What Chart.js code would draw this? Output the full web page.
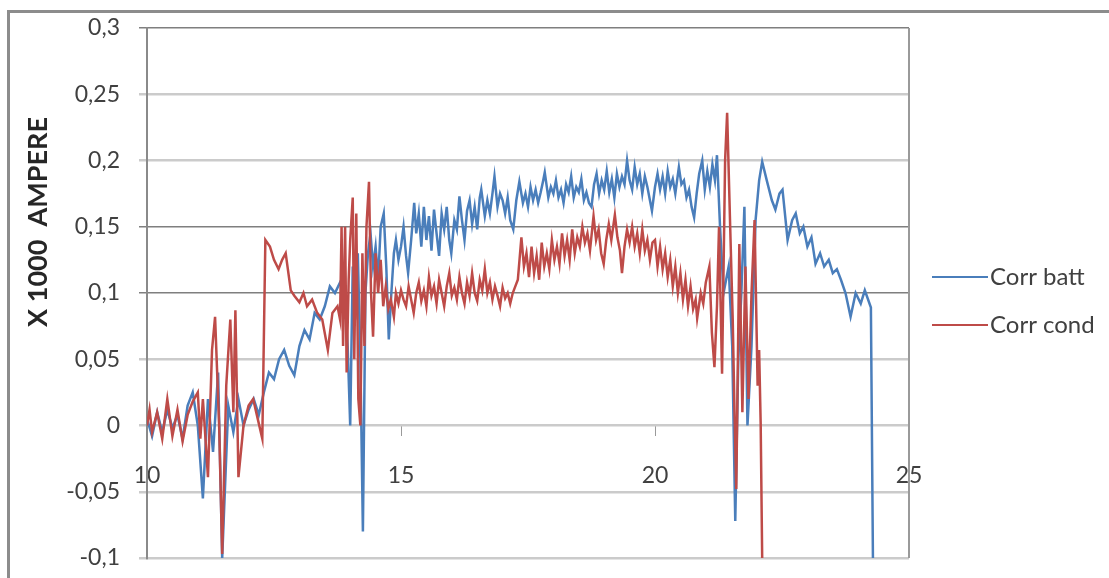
<!DOCTYPE html>
<html>
<head>
<meta charset="utf-8">
<script src="https://cdn.jsdelivr.net/npm/chart.js@4.4.1/dist/chart.umd.min.js"></script>
<style>
html, body { margin: 0; padding: 0; background: #fff; }
#wrap { position: relative; width: 1109px; height: 578px; }
</style>
</head>
<body>
<div id="wrap"><canvas id="chart"></canvas></div>
<script>
// valeurs
const battX = [
    10.0, 10.1, 10.2, 10.3, 10.4, 10.5, 10.6, 10.7, 10.8, 10.9,
    11.0, 11.1, 11.2, 11.3, 11.4, 11.48, 11.6, 11.7, 11.8, 11.9,
    12.0, 12.1, 12.2, 12.3, 12.4, 12.5, 12.6, 12.7, 12.8, 12.9,
    13.0, 13.1, 13.2, 13.3, 13.4, 13.5, 13.6, 13.7, 13.8,
    13.90, 13.95, 14.00, 14.05, 14.10, 14.15, 14.20, 14.25, 14.30, 14.35, 14.40,
    14.45, 14.50, 14.55, 14.60, 14.66, 14.71, 14.76, 14.81, 14.86, 14.90,
    14.95, 15.00, 15.05, 15.10, 15.14, 15.20, 15.26, 15.30, 15.35, 15.40,
    15.45, 15.50, 15.55, 15.60, 15.65, 15.70, 15.75, 15.80, 15.85, 15.90,
    15.95, 15.99, 16.05, 16.10, 16.15, 16.20, 16.25, 16.30, 16.35, 16.40,
    16.45, 16.50, 16.55, 16.58, 16.65, 16.70, 16.75, 16.80, 16.84, 16.90,
    16.95, 17.00, 17.05, 17.10, 17.15, 17.21, 17.27, 17.33, 17.40, 17.45,
    17.50, 17.55, 17.60, 17.65, 17.70, 17.75, 17.80, 17.83, 17.90, 17.95,
    18.00, 18.05, 18.10, 18.15, 18.20, 18.25, 18.30, 18.35, 18.40, 18.45,
    18.50, 18.55, 18.60, 18.65, 18.70, 18.75, 18.80, 18.85, 18.90, 18.95,
    19.00, 19.05, 19.10, 19.15, 19.20, 19.25, 19.30, 19.35, 19.40, 19.45,
    19.50, 19.55, 19.60, 19.65, 19.70, 19.75, 19.80, 19.85, 19.90, 19.94,
    20.00, 20.05, 20.10, 20.15, 20.20, 20.25, 20.30, 20.35, 20.40, 20.47,
    20.52, 20.57, 20.62, 20.67, 20.72, 20.77, 20.82, 20.87, 20.93, 20.98,
    21.03, 21.08, 21.13, 21.18, 21.22,
    21.28, 21.35, 21.45, 21.52, 21.58, 21.64, 21.7, 21.76, 21.82, 21.9,
    21.98, 22.05, 22.11, 22.2, 22.3, 22.37, 22.45, 22.51, 22.61, 22.7,
    22.77, 22.85, 22.92, 23.0, 23.08, 23.16, 23.25, 23.33, 23.42, 23.5,
    23.58, 23.66, 23.75, 23.85, 23.95, 24.05, 24.13, 24.25, 24.29
];
const battY = [
    0.005, -0.008, 0.01, -0.005, 0.012, -0.002, 0.008, -0.01, 0.015, 0.025,
    0.0, -0.055, 0.02, -0.02, 0.04, -0.1, 0.015, -0.005, 0.02, 0.0,
    0.012, 0.02, 0.008, 0.025, 0.04, 0.035, 0.05, 0.057, 0.045, 0.038,
    0.06, 0.072, 0.065, 0.085, 0.08, 0.09, 0.105, 0.1, 0.108,
    0.095, 0.06, 0.0, 0.12, 0.08, 0.13, 0.05, -0.08, 0.1, 0.13, 0.145,
    0.12, 0.135, 0.11, 0.15, 0.16, 0.12, 0.065, 0.1, 0.13, 0.14,
    0.125, 0.135, 0.15, 0.128, 0.115, 0.14, 0.168, 0.145, 0.16, 0.135,
    0.165, 0.14, 0.158, 0.132, 0.163, 0.145, 0.128, 0.16, 0.148, 0.165,
    0.14, 0.13, 0.155, 0.148, 0.173, 0.155, 0.14, 0.162, 0.17, 0.152,
    0.165, 0.148, 0.172, 0.178, 0.158, 0.17, 0.16, 0.175, 0.188, 0.165,
    0.175, 0.17, 0.16, 0.172, 0.155, 0.148, 0.17, 0.184, 0.168, 0.175,
    0.165, 0.18, 0.17, 0.178, 0.168, 0.176, 0.185, 0.191, 0.172, 0.18,
    0.175, 0.185, 0.172, 0.178, 0.168, 0.182, 0.176, 0.188, 0.172, 0.18,
    0.176, 0.186, 0.17, 0.176, 0.168, 0.165, 0.182, 0.19, 0.175, 0.185,
    0.178, 0.192, 0.176, 0.186, 0.172, 0.19, 0.18, 0.188, 0.182, 0.2,
    0.185, 0.178, 0.195, 0.182, 0.19, 0.175, 0.188, 0.18, 0.17, 0.162,
    0.18, 0.19, 0.178, 0.188, 0.175, 0.192, 0.18, 0.186, 0.175, 0.195,
    0.182, 0.185, 0.172, 0.178, 0.165, 0.157, 0.175, 0.19, 0.2, 0.178,
    0.192, 0.18, 0.197, 0.185, 0.204,
    0.15, 0.1, 0.12, 0.06, -0.072, 0.05, 0.1, 0.165, 0.0, 0.06,
    0.155, 0.185, 0.199, 0.185, 0.17, 0.163, 0.175, 0.178, 0.14, 0.155,
    0.16, 0.145, 0.15, 0.135, 0.142, 0.122, 0.13, 0.12, 0.125, 0.115,
    0.118, 0.11, 0.1, 0.082, 0.1, 0.092, 0.102, 0.089, -0.1
];

const condX = [
    10.0, 10.05, 10.1, 10.2, 10.3, 10.4, 10.5, 10.6, 10.7, 10.8,
    10.9, 11.0, 11.05, 11.1, 11.2, 11.28, 11.34, 11.42, 11.48, 11.56,
    11.64, 11.7, 11.74, 11.8, 11.9, 12.0, 12.09, 12.18, 12.27, 12.33,
    12.42, 12.5, 12.59, 12.66, 12.73, 12.83, 12.9, 13.0, 13.08, 13.15,
    13.25, 13.35, 13.45, 13.56, 13.65, 13.75,
    13.80, 13.83, 13.86, 13.90, 13.93, 13.97, 14.00, 14.05, 14.08, 14.12,
    14.16, 14.20, 14.24, 14.28, 14.32, 14.37, 14.41, 14.45,
    14.50, 14.55, 14.60, 14.65, 14.70, 14.75, 14.80, 14.86, 14.90, 14.95,
    15.00, 15.05, 15.10, 15.15, 15.20, 15.25, 15.30, 15.35, 15.40, 15.45,
    15.50, 15.55, 15.60, 15.65, 15.70, 15.75, 15.80, 15.85, 15.90, 15.95,
    16.00, 16.05, 16.10, 16.15, 16.20, 16.25, 16.30, 16.35, 16.40, 16.45,
    16.50, 16.55, 16.60, 16.65, 16.70, 16.75, 16.80, 16.85, 16.90, 16.95,
    17.00, 17.05, 17.10, 17.15, 17.20, 17.25, 17.30, 17.37, 17.42, 17.47,
    17.52, 17.57, 17.62, 17.67, 17.72, 17.77, 17.82, 17.87, 17.92, 17.97,
    18.02, 18.07, 18.12, 18.17, 18.22, 18.27, 18.32, 18.37, 18.42, 18.47,
    18.52, 18.57, 18.62, 18.67, 18.72, 18.79, 18.84, 18.89, 18.94, 18.99,
    19.04, 19.09, 19.14, 19.21, 19.26, 19.31, 19.35, 19.40, 19.45, 19.50,
    19.55, 19.60, 19.65, 19.70, 19.75, 19.80, 19.85, 19.90, 19.95, 20.00,
    20.05, 20.10, 20.15, 20.20, 20.25, 20.30, 20.35, 20.40, 20.45, 20.50,
    20.55, 20.60, 20.65, 20.70, 20.75, 20.80, 20.83, 20.90, 20.95, 21.00,
    21.07,
    21.12, 21.17, 21.22, 21.26, 21.32, 21.38, 21.42, 21.48, 21.53, 21.56,
    21.6, 21.66, 21.72, 21.78, 21.84, 21.9, 21.96, 22.02, 22.05, 22.08,
    22.11
];
const condY = [
    0.0, 0.012, -0.005, 0.01, -0.01, 0.02, -0.008, 0.012, -0.012, 0.008,
    0.018, 0.025, -0.01, 0.02, -0.039, 0.057, 0.082, 0.0, -0.097, 0.03,
    0.08, 0.01, 0.087, -0.039, 0.0, 0.015, 0.02, 0.005, -0.01, 0.14,
    0.135, 0.125, 0.118, 0.125, 0.13, 0.102, 0.098, 0.093, 0.1, 0.09,
    0.095, 0.085, 0.08, 0.057, 0.085, 0.09,
    0.08, 0.15, 0.06, 0.15, 0.04, 0.11, 0.14, 0.172, 0.05, 0.16,
    0.02, 0.0, 0.13, 0.06, 0.15, 0.184, 0.1, 0.067,
    0.13, 0.1, 0.125, 0.09, 0.105, 0.088, 0.095, 0.082, 0.1, 0.092,
    0.102, 0.095, 0.09, 0.105, 0.095, 0.085, 0.1, 0.108, 0.094, 0.102,
    0.09, 0.112, 0.098, 0.105, 0.092, 0.11, 0.1, 0.09, 0.105, 0.115,
    0.098, 0.104, 0.095, 0.112, 0.1, 0.092, 0.108, 0.098, 0.115, 0.1,
    0.094, 0.11, 0.102, 0.118, 0.1, 0.108, 0.095, 0.105, 0.098, 0.09,
    0.104, 0.096, 0.1, 0.092, 0.1, 0.105, 0.11, 0.142, 0.12, 0.13,
    0.112, 0.135, 0.115, 0.128, 0.11, 0.138, 0.12, 0.13, 0.118, 0.14,
    0.125, 0.135, 0.122, 0.145, 0.128, 0.14, 0.125, 0.148, 0.13, 0.142,
    0.135, 0.15, 0.138, 0.145, 0.132, 0.158, 0.14, 0.148, 0.13, 0.122,
    0.14, 0.152, 0.14, 0.159, 0.142, 0.132, 0.115, 0.135, 0.148, 0.138,
    0.15, 0.135, 0.145, 0.13, 0.148, 0.132, 0.14, 0.125, 0.138, 0.14,
    0.12, 0.135, 0.118, 0.13, 0.112, 0.125, 0.105, 0.12, 0.1, 0.115,
    0.095, 0.11, 0.09, 0.105, 0.088, 0.095, 0.081, 0.1, 0.092, 0.108,
    0.12,
    0.07, 0.044, 0.09, 0.15, 0.039, 0.2, 0.236, 0.15, 0.08, 0.02,
    -0.048, 0.137, 0.01, 0.12, 0.02, 0.1, 0.155, 0.03, 0.057, 0.002,
    -0.1
];

const seriesLabels = ["Corr batt", "Corr cond"];
const seriesColors = ["#4a7ebb", "#be4b48"];
const xTicks = [10, 15, 20, 25];
const yTicks = [-0.1, -0.05, 0, 0.05, 0.1, 0.15, 0.2, 0.25, 0.3];
const yTitle = "X 1000  AMPERE";

const FONT = "Lato, 'Open Sans', sans-serif";
const TEXT = "#404040";

function toPoints(xs, ys) {
    return xs.map((x, i) => ({ x: x, y: ys[i] }));
}

function isDark(v) {
    return Math.abs(v - 0.1) < 1e-9 || Math.abs(v - 0.15) < 1e-9 || Math.abs(v - 0.3) < 1e-9;
}

// cadre extérieur, bord droit, titre Y et légende
const framePlugin = {
    id: "frame",
    beforeDraw(chart) {
        const ctx = chart.ctx;
        ctx.save();
        ctx.strokeStyle = "#8c8c8c";
        ctx.lineWidth = 3;
        ctx.beginPath();
        ctx.moveTo(8.5, 600);
        ctx.lineTo(8.5, 11.5);
        ctx.lineTo(1109, 11.5);
        ctx.stroke();
        ctx.restore();
    },
    afterDraw(chart) {
        const a = chart.chartArea;
        const ctx = chart.ctx;
        ctx.save();
        ctx.strokeStyle = "#9a9a9a";
        ctx.lineWidth = 2;
        ctx.beginPath();
        ctx.moveTo(a.right, a.top);
        ctx.lineTo(a.right, a.bottom);
        ctx.stroke();

        ctx.translate(38, 222);
        ctx.rotate(-Math.PI / 2);
        ctx.fillStyle = "#262626";
        ctx.font = "bold 27px " + FONT;
        ctx.textAlign = "center";
        ctx.textBaseline = "middle";
        ctx.fillText(yTitle, 0, 0);
        ctx.restore();

        ctx.save();
        chart.data.datasets.forEach((ds, i) => {
            const y = 277 + i * 48;
            ctx.strokeStyle = ds.borderColor;
            ctx.lineWidth = 2;
            ctx.beginPath();
            ctx.moveTo(932, y);
            ctx.lineTo(988, y);
            ctx.stroke();
            ctx.fillStyle = TEXT;
            ctx.font = "24px " + FONT;
            ctx.textAlign = "left";
            ctx.textBaseline = "middle";
            ctx.fillText(ds.label, 990, y);
        });
        ctx.restore();
    }
};

new Chart(document.getElementById("chart"), {
    type: "line",
    data: {
        datasets: [
            {
                label: seriesLabels[0],
                data: toPoints(battX, battY),
                borderColor: seriesColors[0],
                borderWidth: 2.5,
                pointRadius: 0,
                order: 1
            },
            {
                label: seriesLabels[1],
                data: toPoints(condX, condY),
                borderColor: seriesColors[1],
                borderWidth: 2.5,
                pointRadius: 0,
                order: 0
            }
        ]
    },
    options: {
        responsive: true,
        maintainAspectRatio: false,
        animation: false,
        layout: { padding: { left: 0, top: 28, right: 200, bottom: 20 } },
        plugins: {
            legend: { display: false },
            tooltip: { enabled: false }
        },
        scales: {
            x: {
                type: "linear",
                position: { y: 0 },
                min: 10,
                max: 25,
                afterBuildTicks: s => { s.ticks = xTicks.map(v => ({ value: v })); },
                ticks: {
                    color: TEXT,
                    font: { family: FONT, size: 23 },
                    padding: 26,
                    maxRotation: 0
                },
                grid: {
                    drawOnChartArea: false,
                    tickLength: 10,
                    color: "#9a9a9a"
                },
                border: { display: false }
            },
            y: {
                min: -0.1,
                max: 0.3,
                afterFit: s => {
                    s.width = 147;
                    s.paddingTop = 0;
                    s.paddingBottom = 0;
                },
                afterBuildTicks: s => { s.ticks = yTicks.map(v => ({ value: v })); },
                ticks: {
                    color: TEXT,
                    font: { family: FONT, size: 23 },
                    padding: 19,
                    callback: v => String(v).replace(".", ",")
                },
                grid: {
                    tickLength: 8,
                    color: c => (c.tick && isDark(c.tick.value)) ? "#7f7f7f" : "#cbcbcb",
                    lineWidth: c => (c.tick && isDark(c.tick.value)) ? 1.5 : 2.5
                },
                border: { color: "#8a8a8a", width: 2 }
            }
        }
    },
    plugins: [framePlugin]
});
</script>
</body>
</html>
